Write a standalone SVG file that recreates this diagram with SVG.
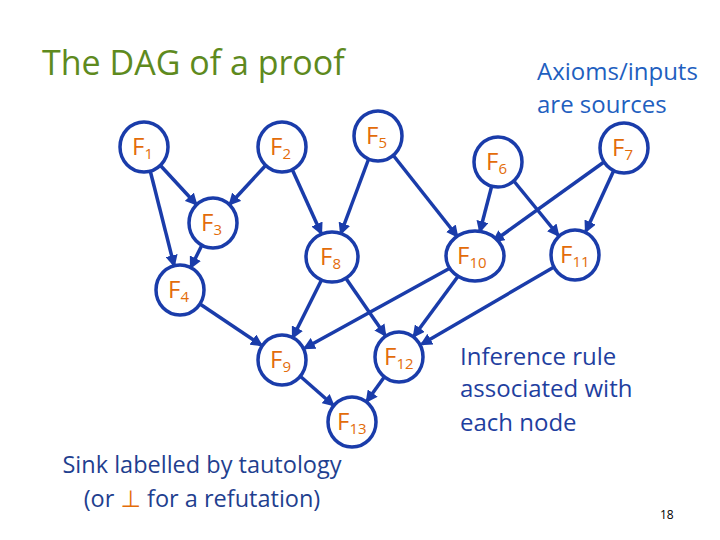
<svg xmlns="http://www.w3.org/2000/svg" width="720" height="540" viewBox="0 0 720 540">
<style>
.n ellipse{fill:#fff;stroke:#1a3caa;stroke-width:3.5}
.n text{fill:#e36c09;font-family:"Open Sans","DejaVu Sans",sans-serif;font-size:24px}
.n tspan{font-size:15px}
#edges line{stroke:#1a3caa;stroke-width:3.5;marker-end:url(#a)}
.t{font-family:"Open Sans","DejaVu Sans",sans-serif}
</style>
<defs><marker id="a" viewBox="0 0 10 10" refX="8" refY="5" markerWidth="3.5" markerHeight="3.5" orient="auto" markerUnits="strokeWidth"><path d="M0,0L10,5L0,10z" fill="#1a3caa"/></marker></defs>
<rect width="720" height="540" fill="#fff"/>
<text class="t" x="42" y="75" font-size="34" fill="#5e8a1e">The DAG of a proof</text>
<text class="t" font-size="24" fill="#1f5fbf"><tspan x="537" y="80">Axioms/inputs</tspan><tspan x="537" y="113">are sources</tspan></text>
<text class="t" font-size="24" fill="#1f3f9f"><tspan x="460" y="365">Inference rule</tspan><tspan x="460" y="397">associated with</tspan><tspan x="460" y="431">each node</tspan></text>
<text class="t" font-size="23.5" fill="#1f3f8f" text-anchor="middle"><tspan x="202" y="473">Sink labelled by tautology</tspan><tspan x="202" y="507">(or <tspan fill="#e36c09">⊥</tspan> for a refutation)</tspan></text>
<text class="t" x="660" y="519" font-size="12" fill="#000">18</text>
<g id="edges">
<line x1="160" y1="165" x2="196" y2="204"/>
<line x1="150" y1="170" x2="174" y2="265"/>
<line x1="266" y1="165" x2="230" y2="204"/>
<line x1="292" y1="169" x2="321" y2="233"/>
<line x1="202" y1="245" x2="191" y2="267"/>
<line x1="369" y1="158" x2="341" y2="233"/>
<line x1="393" y1="155" x2="457" y2="236"/>
<line x1="200" y1="304" x2="261" y2="345"/>
<line x1="322" y1="279" x2="293" y2="337"/>
<line x1="345" y1="277" x2="385" y2="335"/>
<line x1="452" y1="267" x2="305" y2="348"/>
<line x1="459" y1="275" x2="414" y2="336"/>
<line x1="554" y1="267" x2="422" y2="344"/>
<line x1="300" y1="376" x2="333" y2="405"/>
<line x1="385" y1="376" x2="367" y2="401"/>
<line x1="492" y1="185" x2="480" y2="231"/>
<line x1="513" y1="180" x2="558" y2="235"/>
<line x1="604" y1="162" x2="494" y2="241"/>
<line x1="614" y1="170" x2="586" y2="231"/>
</g>
<g id="F1" class="n"><ellipse cx="144" cy="147" rx="24" ry="25"/><text x="132" y="155">F<tspan dy="4">1</tspan></text></g>
<g id="F2" class="n"><ellipse cx="282" cy="147" rx="24" ry="25"/><text x="270" y="155">F<tspan dy="4">2</tspan></text></g>
<g id="F5" class="n"><ellipse cx="378" cy="136" rx="24" ry="25"/><text x="366" y="144">F<tspan dy="4">5</tspan></text></g>
<g id="F6" class="n"><ellipse cx="498" cy="162" rx="24" ry="25"/><text x="486" y="170">F<tspan dy="4">6</tspan></text></g>
<g id="F7" class="n"><ellipse cx="624" cy="148" rx="24" ry="25"/><text x="612" y="156">F<tspan dy="4">7</tspan></text></g>
<g id="F3" class="n"><ellipse cx="213" cy="223" rx="24" ry="25"/><text x="201" y="231">F<tspan dy="4">3</tspan></text></g>
<g id="F4" class="n"><ellipse cx="180" cy="290" rx="24" ry="25"/><text x="168" y="298">F<tspan dy="4">4</tspan></text></g>
<g id="F8" class="n"><ellipse cx="332" cy="257" rx="26" ry="25"/><text x="320" y="265">F<tspan dy="4">8</tspan></text></g>
<g id="F10" class="n"><ellipse cx="475" cy="256" rx="29" ry="25"/><text x="457" y="264">F<tspan dy="4">10</tspan></text></g>
<g id="F11" class="n"><ellipse cx="575" cy="255" rx="24" ry="25"/><text x="560" y="263">F<tspan dy="4">11</tspan></text></g>
<g id="F9" class="n"><ellipse cx="282" cy="360" rx="24" ry="25"/><text x="270" y="368">F<tspan dy="4">9</tspan></text></g>
<g id="F12" class="n"><ellipse cx="399" cy="357" rx="24" ry="25"/><text x="384" y="365">F<tspan dy="4">12</tspan></text></g>
<g id="F13" class="n"><ellipse cx="352" cy="422" rx="24" ry="25"/><text x="337" y="430">F<tspan dy="4">13</tspan></text></g>
</svg>
